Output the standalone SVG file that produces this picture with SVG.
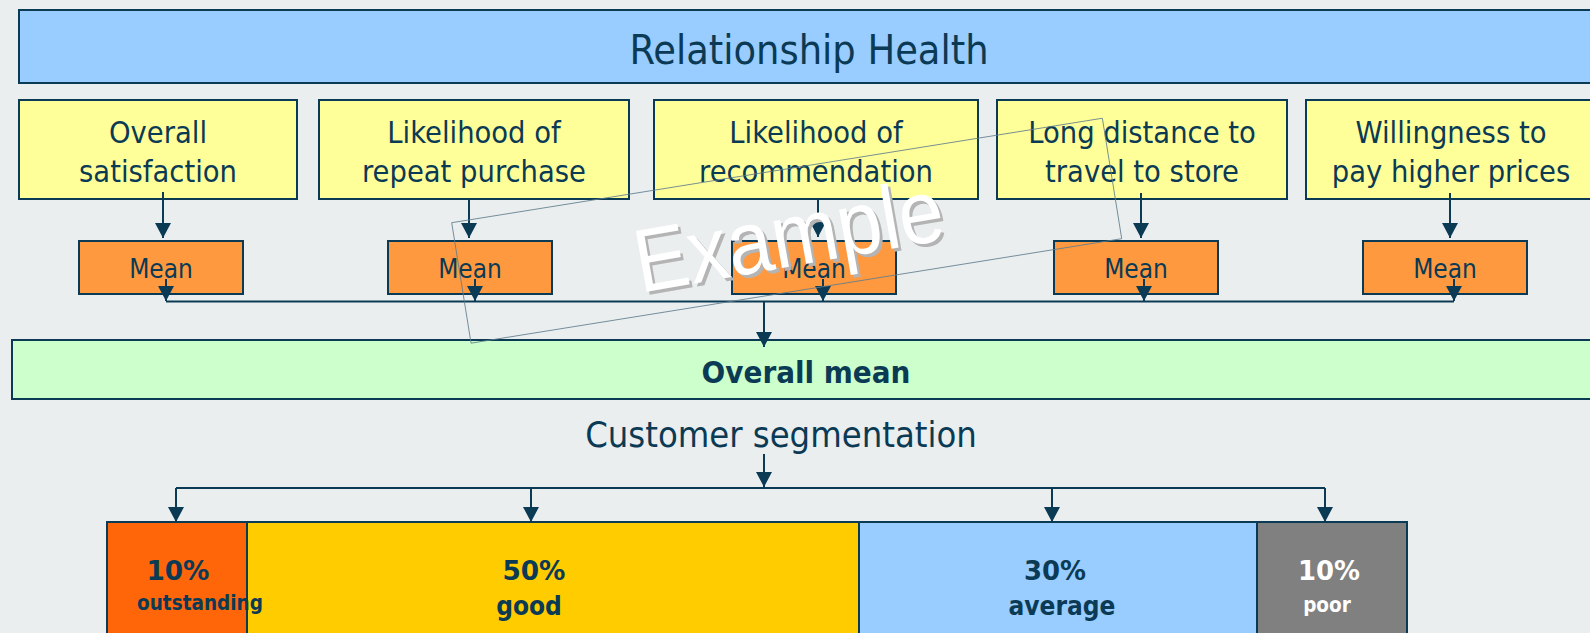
<svg xmlns="http://www.w3.org/2000/svg" width="1590" height="633" viewBox="0 0 1590 633">
  <style>
    .bg { fill: #EAEEEF; }
    .box { stroke: #0B3A55; stroke-width: 2; }
    .title { fill: #99CCFF; }
    .metric { fill: #FFFF99; }
    .mean { fill: #FF9940; }
    .overall { fill: #CCFFCC; }
    text { font-family: "DejaVu Sans Condensed", "DejaVu Sans", sans-serif; font-stretch: condensed; fill: #0B3A55; text-anchor: middle; }
    .t-head { font-size: 41px; }
    .t-metric { font-size: 30.5px; }
    .t-mean { font-size: 26px; }
    .t-overall { font-size: 31px; font-weight: bold; }
    .t-seg { font-size: 36px; }
    .t-pct { font-size: 26px; font-weight: bold; }
    .t-lbl { font-size: 26px; font-weight: bold; }
    .t-small { font-size: 20.5px; font-weight: bold; }
    .light { fill: #FFFFFF; }
    .conn { stroke: #0B3A55; stroke-width: 2; fill: none; }
    .arrow { marker-end: url(#head); }
    .wm-frame { fill: none; stroke: #5F7D8C; stroke-width: 0.8; }
    .wm { font-family: "Liberation Sans", Arial, sans-serif; font-stretch: normal; font-size: 90px; }
  </style>
  <defs>
    <marker id="head" markerUnits="userSpaceOnUse" markerWidth="15" markerHeight="16" refX="15" refY="8" orient="auto">
      <path d="M0,0 L15,8 L0,16 Z" fill="#0B3A55"/>
    </marker>
  </defs>

  <rect class="bg" x="0" y="0" width="1590" height="633"/>

  <!-- header bar -->
  <g id="relationship-health">
    <rect class="box title" x="19" y="10" width="1600" height="73"/>
    <text class="t-head" x="809" y="64">Relationship Health</text>
  </g>

  <!-- survey metrics -->
  <g id="overall-satisfaction">
    <rect class="box metric" x="19" y="100" width="278" height="99"/>
    <text class="t-metric" x="158" y="143">Overall</text>
    <text class="t-metric" x="158" y="182">satisfaction</text>
  </g>
  <g id="repeat-purchase">
    <rect class="box metric" x="319" y="100" width="310" height="99"/>
    <text class="t-metric" x="474" y="143">Likelihood of</text>
    <text class="t-metric" x="474" y="182">repeat purchase</text>
  </g>
  <g id="recommendation">
    <rect class="box metric" x="654" y="100" width="324" height="99"/>
    <text class="t-metric" x="816" y="143">Likelihood of</text>
    <text class="t-metric" x="816" y="182">recommendation</text>
  </g>
  <g id="travel-distance">
    <rect class="box metric" x="997" y="100" width="290" height="99"/>
    <text class="t-metric" x="1142" y="143">Long distance to</text>
    <text class="t-metric" x="1142" y="182">travel to store</text>
  </g>
  <g id="higher-prices">
    <rect class="box metric" x="1306" y="100" width="300" height="99"/>
    <text class="t-metric" x="1451" y="143">Willingness to</text>
    <text class="t-metric" x="1451" y="182">pay higher prices</text>
  </g>

  <!-- per-metric means -->
  <g id="mean-1">
    <rect class="box mean" x="79" y="241" width="164" height="53"/>
    <text class="t-mean" x="161" y="277.5">Mean</text>
  </g>
  <g id="mean-2">
    <rect class="box mean" x="388" y="241" width="164" height="53"/>
    <text class="t-mean" x="470" y="277.5">Mean</text>
  </g>
  <g id="mean-3">
    <rect class="box mean" x="732" y="241" width="164" height="53"/>
    <text class="t-mean" x="814" y="277.5">Mean</text>
  </g>
  <g id="mean-4">
    <rect class="box mean" x="1054" y="241" width="164" height="53"/>
    <text class="t-mean" x="1136" y="277.5">Mean</text>
  </g>
  <g id="mean-5">
    <rect class="box mean" x="1363" y="241" width="164" height="53"/>
    <text class="t-mean" x="1445" y="277.5">Mean</text>
  </g>

  <!-- combined score -->
  <g id="overall-mean">
    <rect class="box overall" x="12" y="340" width="1600" height="59"/>
    <text class="t-overall" x="806" y="383">Overall mean</text>
  </g>

  <g id="customer-segmentation">
    <text class="t-seg" x="781" y="446.5">Customer segmentation</text>
  </g>

  <!-- segment bar (the "outstanding" label runs over the next segment, so it is drawn last) -->
  <g id="segment-good">
    <rect class="box" x="247" y="522" width="612" height="130" fill="#FFCC00"/>
    <text class="t-pct" x="534" y="580" textLength="63" lengthAdjust="spacingAndGlyphs">50%</text>
    <text class="t-lbl" x="529" y="615">good</text>
  </g>
  <g id="segment-average">
    <rect class="box" x="859" y="522" width="398" height="130" fill="#99CCFF"/>
    <text class="t-pct" x="1055" y="580" textLength="62" lengthAdjust="spacingAndGlyphs">30%</text>
    <text class="t-lbl" x="1062" y="615">average</text>
  </g>
  <g id="segment-poor">
    <rect class="box" x="1257" y="522" width="150" height="130" fill="#808080"/>
    <text class="t-pct light" x="1329" y="580" textLength="62" lengthAdjust="spacingAndGlyphs">10%</text>
    <text class="t-small light" x="1327" y="612">poor</text>
  </g>
  <g id="segment-outstanding">
    <rect class="box" x="107" y="522" width="140" height="130" fill="#FF660A"/>
    <text class="t-pct" x="178" y="580" textLength="63" lengthAdjust="spacingAndGlyphs">10%</text>
    <text class="t-small" x="200" y="610">outstanding</text>
  </g>

  <!-- connectors -->
  <g id="connectors">
    <line class="conn arrow" x1="163" y1="192" x2="163" y2="238"/>
    <line class="conn arrow" x1="469" y1="199" x2="469" y2="238"/>
    <line class="conn arrow" x1="818" y1="199" x2="818" y2="237"/>
    <line class="conn arrow" x1="1141" y1="193" x2="1141" y2="238"/>
    <line class="conn arrow" x1="1450" y1="193" x2="1450" y2="238"/>

    <line class="conn arrow" x1="166" y1="279" x2="166" y2="301"/>
    <line class="conn arrow" x1="475" y1="279" x2="475" y2="301"/>
    <line class="conn arrow" x1="823" y1="279" x2="823" y2="301"/>
    <line class="conn arrow" x1="1144" y1="279" x2="1144" y2="301"/>
    <line class="conn arrow" x1="1454" y1="279" x2="1454" y2="301"/>
    <line class="conn" x1="166" y1="301.5" x2="1454" y2="301.5"/>
    <line class="conn arrow" x1="764" y1="301.5" x2="764" y2="347"/>

    <line class="conn arrow" x1="764" y1="454" x2="764" y2="487"/>
    <line class="conn" x1="176" y1="488" x2="1325" y2="488"/>
    <line class="conn arrow" x1="176" y1="488" x2="176" y2="522"/>
    <line class="conn arrow" x1="531" y1="488" x2="531" y2="522"/>
    <line class="conn arrow" x1="1052" y1="488" x2="1052" y2="522"/>
    <line class="conn arrow" x1="1325" y1="488" x2="1325" y2="522"/>
  </g>

  <!-- watermark -->
  <g id="watermark">
    <rect class="wm-frame" x="0" y="0" width="659" height="122" transform="translate(451.7,222.7) rotate(-9.12)"/>
    <text class="wm" x="797" y="269" textLength="312" lengthAdjust="spacingAndGlyphs" style="fill:#B4B4B4" transform="rotate(-10 797 269)">Example</text>
    <text class="wm light" x="794" y="266" textLength="312" lengthAdjust="spacingAndGlyphs" transform="rotate(-10 794 266)">Example</text>
  </g>
</svg>
